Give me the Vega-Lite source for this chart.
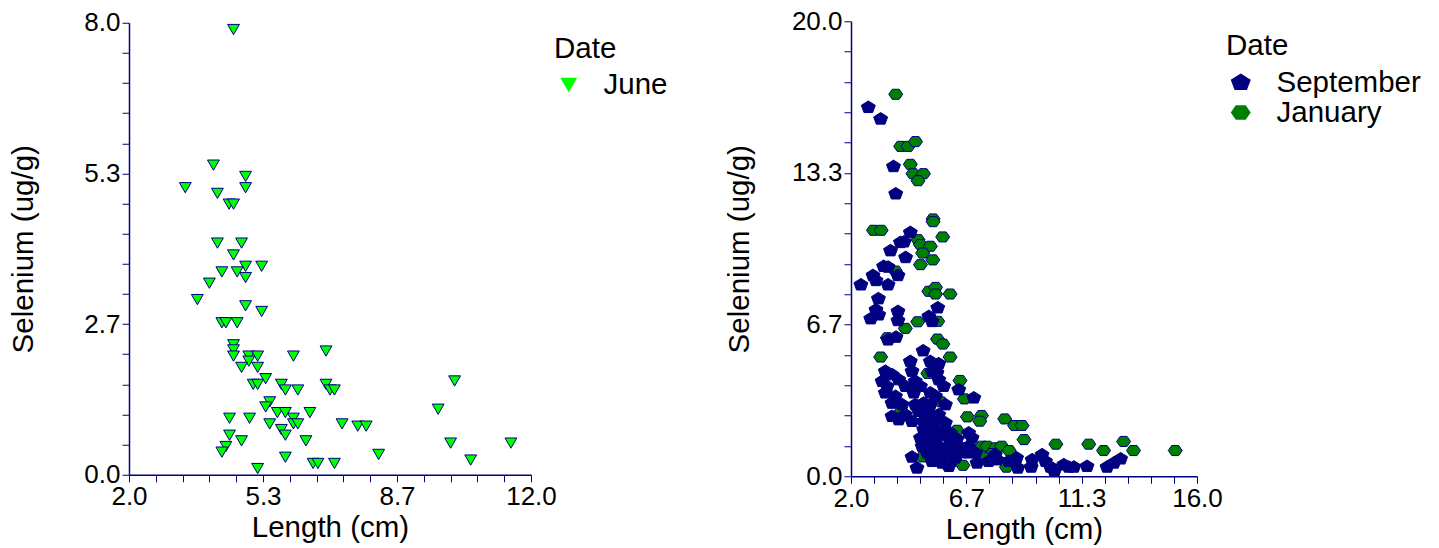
{
  "$schema": "https://vega.github.io/schema/vega-lite/v6.json",
  "background": "white",
  "padding": {"left": 8, "top": 8, "right": 5, "bottom": 5},
  "config": {
    "view": {"stroke": null},
    "font": "Liberation Sans",
    "axis": {
      "domainColor": "#000080", "domainWidth": 1.5,
      "tickColor": "#000080", "tickWidth": 1, "tickSize": 7,
      "labelFontSize": 26, "labelColor": "#000000", "labelPadding": 2,
      "labelFlush": false, "labelOverlap": false,
      "titleFontSize": 29.5, "titleColor": "#000000", "titleFontWeight": "normal",
      "grid": false
    },
    "legend": {
      "titleFontSize": 29.5, "titleFontWeight": "normal", "titleColor": "#000000",
      "labelFontSize": 29.5, "labelColor": "#000000",
      "rowPadding": -4, "titlePadding": 6,
      "symbolStrokeColor": "#000080", "symbolStrokeWidth": 1, "symbolOpacity": 1
    }
  },
  "datasets": {
    "june": [
      {"length": 4.60, "selenium": 7.88}, {"length": 4.10, "selenium": 5.48}, {"length": 4.90, "selenium": 5.28},
      {"length": 3.40, "selenium": 5.08}, {"length": 4.90, "selenium": 5.08}, {"length": 4.20, "selenium": 4.98},
      {"length": 4.49, "selenium": 4.79}, {"length": 4.60, "selenium": 4.79}, {"length": 4.20, "selenium": 4.10},
      {"length": 4.80, "selenium": 4.10}, {"length": 4.60, "selenium": 3.89}, {"length": 4.90, "selenium": 3.69},
      {"length": 5.30, "selenium": 3.69}, {"length": 4.31, "selenium": 3.59}, {"length": 4.69, "selenium": 3.59},
      {"length": 4.90, "selenium": 3.49}, {"length": 4.00, "selenium": 3.39}, {"length": 3.70, "selenium": 3.10},
      {"length": 4.90, "selenium": 2.99}, {"length": 5.30, "selenium": 2.89}, {"length": 4.31, "selenium": 2.69},
      {"length": 4.41, "selenium": 2.69}, {"length": 4.69, "selenium": 2.69}, {"length": 4.60, "selenium": 2.30},
      {"length": 4.60, "selenium": 2.21}, {"length": 4.60, "selenium": 2.10}, {"length": 4.98, "selenium": 2.10},
      {"length": 5.20, "selenium": 2.10}, {"length": 4.98, "selenium": 2.01}, {"length": 6.09, "selenium": 2.10},
      {"length": 6.90, "selenium": 2.19}, {"length": 4.80, "selenium": 1.90}, {"length": 5.20, "selenium": 1.90},
      {"length": 5.40, "selenium": 1.70}, {"length": 5.09, "selenium": 1.60}, {"length": 5.20, "selenium": 1.60},
      {"length": 5.79, "selenium": 1.60}, {"length": 5.89, "selenium": 1.50}, {"length": 6.20, "selenium": 1.50},
      {"length": 6.90, "selenium": 1.60}, {"length": 7.00, "selenium": 1.50}, {"length": 7.11, "selenium": 1.50},
      {"length": 5.50, "selenium": 1.29}, {"length": 5.40, "selenium": 1.20}, {"length": 5.69, "selenium": 1.10},
      {"length": 5.89, "selenium": 1.10}, {"length": 6.50, "selenium": 1.10}, {"length": 4.50, "selenium": 1.00},
      {"length": 5.00, "selenium": 1.00}, {"length": 6.09, "selenium": 1.00}, {"length": 5.50, "selenium": 0.90},
      {"length": 6.09, "selenium": 0.90}, {"length": 6.20, "selenium": 0.90}, {"length": 7.30, "selenium": 0.90},
      {"length": 5.79, "selenium": 0.80}, {"length": 5.89, "selenium": 0.70}, {"length": 4.50, "selenium": 0.70},
      {"length": 4.80, "selenium": 0.60}, {"length": 6.40, "selenium": 0.60}, {"length": 4.41, "selenium": 0.50},
      {"length": 4.31, "selenium": 0.40}, {"length": 5.89, "selenium": 0.31}, {"length": 5.20, "selenium": 0.11},
      {"length": 6.58, "selenium": 0.20}, {"length": 6.70, "selenium": 0.20}, {"length": 7.11, "selenium": 0.20},
      {"length": 7.69, "selenium": 0.86}, {"length": 7.90, "selenium": 0.86}, {"length": 8.21, "selenium": 0.36},
      {"length": 9.69, "selenium": 1.16}, {"length": 10.10, "selenium": 1.66}, {"length": 10.00, "selenium": 0.56},
      {"length": 10.50, "selenium": 0.26}, {"length": 11.50, "selenium": 0.56}
    ],
    "sepjan": [
      {"date": "January", "length": 3.81, "selenium": 16.79}, {"date": "January", "length": 4.01, "selenium": 14.50},
      {"date": "January", "length": 4.31, "selenium": 14.50}, {"date": "January", "length": 4.61, "selenium": 14.71},
      {"date": "January", "length": 4.40, "selenium": 13.71}, {"date": "January", "length": 4.51, "selenium": 13.30},
      {"date": "January", "length": 4.93, "selenium": 13.30}, {"date": "January", "length": 4.71, "selenium": 12.99},
      {"date": "January", "length": 5.32, "selenium": 11.31}, {"date": "January", "length": 5.32, "selenium": 11.19},
      {"date": "January", "length": 2.91, "selenium": 10.81}, {"date": "January", "length": 3.22, "selenium": 10.81},
      {"date": "January", "length": 5.71, "selenium": 10.52}, {"date": "January", "length": 4.71, "selenium": 10.40},
      {"date": "January", "length": 4.81, "selenium": 10.18}, {"date": "January", "length": 5.21, "selenium": 10.11},
      {"date": "January", "length": 4.90, "selenium": 9.81}, {"date": "January", "length": 5.31, "selenium": 9.51},
      {"date": "January", "length": 4.81, "selenium": 9.30}, {"date": "January", "length": 3.80, "selenium": 9.02},
      {"date": "January", "length": 5.15, "selenium": 8.13}, {"date": "January", "length": 5.42, "selenium": 8.30},
      {"date": "January", "length": 5.42, "selenium": 8.01}, {"date": "January", "length": 6.01, "selenium": 8.01},
      {"date": "January", "length": 4.70, "selenium": 6.79}, {"date": "January", "length": 5.51, "selenium": 6.81},
      {"date": "January", "length": 4.20, "selenium": 6.50}, {"date": "January", "length": 3.47, "selenium": 6.09},
      {"date": "January", "length": 5.50, "selenium": 6.03}, {"date": "January", "length": 5.72, "selenium": 5.81},
      {"date": "January", "length": 3.20, "selenium": 5.24}, {"date": "January", "length": 6.01, "selenium": 5.24},
      {"date": "January", "length": 5.11, "selenium": 4.52}, {"date": "January", "length": 6.41, "selenium": 4.21},
      {"date": "January", "length": 6.59, "selenium": 3.40}, {"date": "January", "length": 5.64, "selenium": 3.27},
      {"date": "January", "length": 4.00, "selenium": 2.81}, {"date": "January", "length": 6.71, "selenium": 2.61},
      {"date": "January", "length": 7.28, "selenium": 2.67}, {"date": "January", "length": 7.21, "selenium": 2.42},
      {"date": "January", "length": 6.29, "selenium": 2.02}, {"date": "January", "length": 6.56, "selenium": 1.25},
      {"date": "January", "length": 7.30, "selenium": 1.32}, {"date": "January", "length": 7.51, "selenium": 1.32},
      {"date": "January", "length": 7.85, "selenium": 1.25}, {"date": "January", "length": 7.71, "selenium": 1.00},
      {"date": "January", "length": 7.37, "selenium": 0.81}, {"date": "January", "length": 4.90, "selenium": 0.85},
      {"date": "January", "length": 5.59, "selenium": 0.76}, {"date": "January", "length": 5.91, "selenium": 0.48},
      {"date": "January", "length": 6.25, "selenium": 0.66}, {"date": "January", "length": 6.53, "selenium": 0.48},
      {"date": "January", "length": 8.22, "selenium": 2.52}, {"date": "January", "length": 8.62, "selenium": 2.23},
      {"date": "January", "length": 8.92, "selenium": 2.23}, {"date": "January", "length": 9.00, "selenium": 1.61},
      {"date": "January", "length": 10.29, "selenium": 1.41}, {"date": "January", "length": 11.62, "selenium": 1.41},
      {"date": "January", "length": 12.22, "selenium": 1.13}, {"date": "January", "length": 13.03, "selenium": 1.53},
      {"date": "January", "length": 13.43, "selenium": 1.13}, {"date": "January", "length": 15.12, "selenium": 1.13},
      {"date": "January", "length": 8.10, "selenium": 1.32}, {"date": "January", "length": 8.40, "selenium": 1.13},
      {"date": "January", "length": 8.29, "selenium": 0.40},
      {"date": "September", "length": 2.70, "selenium": 16.22}, {"date": "September", "length": 3.20, "selenium": 15.71},
      {"date": "September", "length": 3.72, "selenium": 13.62}, {"date": "September", "length": 3.81, "selenium": 12.42},
      {"date": "September", "length": 4.40, "selenium": 10.72}, {"date": "September", "length": 4.00, "selenium": 10.28},
      {"date": "September", "length": 4.15, "selenium": 10.31}, {"date": "September", "length": 3.60, "selenium": 9.92},
      {"date": "September", "length": 4.21, "selenium": 9.62}, {"date": "September", "length": 3.32, "selenium": 9.23},
      {"date": "September", "length": 3.50, "selenium": 9.20}, {"date": "September", "length": 3.90, "selenium": 8.83},
      {"date": "September", "length": 2.89, "selenium": 8.83}, {"date": "September", "length": 3.01, "selenium": 8.61},
      {"date": "September", "length": 2.40, "selenium": 8.42}, {"date": "September", "length": 3.50, "selenium": 8.42},
      {"date": "September", "length": 3.11, "selenium": 7.81}, {"date": "September", "length": 5.51, "selenium": 7.41},
      {"date": "September", "length": 3.01, "selenium": 7.32}, {"date": "September", "length": 3.12, "selenium": 7.10},
      {"date": "September", "length": 2.80, "selenium": 6.93}, {"date": "September", "length": 3.90, "selenium": 7.25},
      {"date": "September", "length": 3.90, "selenium": 6.85}, {"date": "September", "length": 5.15, "selenium": 7.03},
      {"date": "September", "length": 5.28, "selenium": 6.81}, {"date": "September", "length": 3.82, "selenium": 6.12},
      {"date": "September", "length": 3.50, "selenium": 6.00}, {"date": "September", "length": 4.92, "selenium": 5.52},
      {"date": "September", "length": 4.40, "selenium": 5.05}, {"date": "September", "length": 5.21, "selenium": 5.05},
      {"date": "September", "length": 5.55, "selenium": 4.95}, {"date": "September", "length": 3.39, "selenium": 4.62},
      {"date": "September", "length": 3.66, "selenium": 4.47}, {"date": "September", "length": 4.47, "selenium": 4.62},
      {"date": "September", "length": 5.28, "selenium": 4.62}, {"date": "September", "length": 5.48, "selenium": 4.55},
      {"date": "September", "length": 3.26, "selenium": 4.18}, {"date": "September", "length": 3.93, "selenium": 4.25},
      {"date": "September", "length": 4.60, "selenium": 4.18}, {"date": "September", "length": 5.55, "selenium": 4.25},
      {"date": "September", "length": 3.46, "selenium": 3.96}, {"date": "September", "length": 4.20, "selenium": 3.96},
      {"date": "September", "length": 4.81, "selenium": 3.96}, {"date": "September", "length": 5.75, "selenium": 3.96},
      {"date": "September", "length": 6.36, "selenium": 3.81}, {"date": "September", "length": 3.39, "selenium": 3.67},
      {"date": "September", "length": 3.80, "selenium": 3.52}, {"date": "September", "length": 4.54, "selenium": 3.67},
      {"date": "September", "length": 5.21, "selenium": 3.67}, {"date": "September", "length": 5.42, "selenium": 3.52},
      {"date": "September", "length": 6.97, "selenium": 3.45}, {"date": "September", "length": 3.66, "selenium": 3.22},
      {"date": "September", "length": 4.07, "selenium": 3.15}, {"date": "September", "length": 4.60, "selenium": 3.15},
      {"date": "September", "length": 4.94, "selenium": 3.22}, {"date": "September", "length": 5.21, "selenium": 3.15},
      {"date": "September", "length": 5.82, "selenium": 3.15}, {"date": "September", "length": 3.66, "selenium": 2.64},
      {"date": "September", "length": 4.20, "selenium": 2.71}, {"date": "September", "length": 4.74, "selenium": 2.86},
      {"date": "September", "length": 5.15, "selenium": 2.78}, {"date": "September", "length": 5.55, "selenium": 2.71},
      {"date": "September", "length": 3.93, "selenium": 2.49}, {"date": "September", "length": 4.47, "selenium": 2.42},
      {"date": "September", "length": 4.94, "selenium": 2.42}, {"date": "September", "length": 5.35, "selenium": 2.35},
      {"date": "September", "length": 5.82, "selenium": 2.35}, {"date": "September", "length": 4.94, "selenium": 2.06},
      {"date": "September", "length": 5.35, "selenium": 2.06}, {"date": "September", "length": 5.68, "selenium": 1.98},
      {"date": "September", "length": 6.02, "selenium": 1.91}, {"date": "September", "length": 6.76, "selenium": 1.91},
      {"date": "September", "length": 4.81, "selenium": 1.69}, {"date": "September", "length": 5.15, "selenium": 1.69},
      {"date": "September", "length": 5.48, "selenium": 1.69}, {"date": "September", "length": 5.96, "selenium": 1.69},
      {"date": "September", "length": 6.29, "selenium": 1.64}, {"date": "September", "length": 6.90, "selenium": 1.69},
      {"date": "September", "length": 4.88, "selenium": 1.32}, {"date": "September", "length": 5.21, "selenium": 1.32},
      {"date": "September", "length": 5.55, "selenium": 1.32}, {"date": "September", "length": 5.96, "selenium": 1.32},
      {"date": "September", "length": 6.36, "selenium": 1.25}, {"date": "September", "length": 6.76, "selenium": 1.32},
      {"date": "September", "length": 4.47, "selenium": 0.85}, {"date": "September", "length": 5.08, "selenium": 1.03},
      {"date": "September", "length": 5.42, "selenium": 1.03}, {"date": "September", "length": 5.75, "selenium": 0.95},
      {"date": "September", "length": 6.16, "selenium": 0.95}, {"date": "September", "length": 6.70, "selenium": 1.03},
      {"date": "September", "length": 7.04, "selenium": 1.03}, {"date": "September", "length": 5.28, "selenium": 0.66},
      {"date": "September", "length": 5.68, "selenium": 0.59}, {"date": "September", "length": 6.22, "selenium": 0.81},
      {"date": "September", "length": 7.10, "selenium": 0.59}, {"date": "September", "length": 7.57, "selenium": 0.66},
      {"date": "September", "length": 7.84, "selenium": 0.95}, {"date": "September", "length": 4.67, "selenium": 0.37},
      {"date": "September", "length": 5.96, "selenium": 0.44}, {"date": "September", "length": 8.70, "selenium": 0.81},
      {"date": "September", "length": 8.75, "selenium": 0.37}, {"date": "September", "length": 9.33, "selenium": 0.73},
      {"date": "September", "length": 9.29, "selenium": 0.41}, {"date": "September", "length": 9.73, "selenium": 0.95},
      {"date": "September", "length": 9.87, "selenium": 0.66}, {"date": "September", "length": 10.07, "selenium": 0.41},
      {"date": "September", "length": 10.23, "selenium": 0.22}, {"date": "September", "length": 10.61, "selenium": 0.51},
      {"date": "September", "length": 10.81, "selenium": 0.41}, {"date": "September", "length": 11.02, "selenium": 0.41},
      {"date": "September", "length": 11.55, "selenium": 0.44}, {"date": "September", "length": 12.36, "selenium": 0.41},
      {"date": "September", "length": 12.64, "selenium": 0.59}, {"date": "September", "length": 12.91, "selenium": 0.77},
      {"date": "September", "length": 7.91, "selenium": 0.73}, {"date": "September", "length": 8.38, "selenium": 0.66}
    ]
  },
  "spacing": 44,
  "center": true,
  "hconcat": [
    {
      "width": 402,
      "height": 452,
      "data": {"name": "june"},
      "transform": [{"calculate": "'June'", "as": "date"}],
      "mark": {"type": "point", "filled": true, "opacity": 1, "stroke": "#000080", "strokeWidth": 1, "size": 140},
      "encoding": {
        "x": {
          "field": "length", "type": "quantitative",
          "scale": {"domain": [2, 12], "nice": false, "zero": false},
          "axis": {
            "title": "Length (cm)", "titlePadding": 4,
            "values": [2, 2.6667, 3.3333, 4, 4.6667, 5.3333, 6, 6.6667, 7.3333, 8, 8.6667, 9.3333, 10, 10.6667, 11.3333, 12],
            "labelExpr": "(round((datum.value - 2) * 1.5) % 5 == 0) ? format(datum.value, '.1f') : ''"
          }
        },
        "y": {
          "field": "selenium", "type": "quantitative",
          "scale": {"domain": [0, 8], "nice": false},
          "axis": {
            "title": "Selenium (ug/g)", "titlePadding": 45,
            "values": [0, 0.5333, 1.0667, 1.6, 2.1333, 2.6667, 3.2, 3.7333, 4.2667, 4.8, 5.3333, 5.8667, 6.4, 6.9333, 7.4667, 8],
            "labelExpr": "(round(datum.value * 15 / 8) % 5 == 0) ? format(datum.value, '.1f') : ''"
          }
        },
        "color": {
          "field": "date", "type": "nominal",
          "scale": {"domain": ["June"], "range": ["#00ff00"]},
          "legend": {"title": "Date", "symbolSize": 289, "padding": 12, "offset": 11, "labelOffset": 20}
        },
        "shape": {
          "field": "date", "type": "nominal",
          "scale": {"domain": ["June"], "range": ["triangle-down"]}
        }
      }
    },
    {
      "width": 346,
      "height": 455,
      "data": {"name": "sepjan"},
      "mark": {"type": "point", "filled": true, "opacity": 1, "stroke": "#000080", "strokeWidth": 1, "size": 195},
      "encoding": {
        "x": {
          "field": "length", "type": "quantitative",
          "scale": {"domain": [2, 16], "nice": false, "zero": false},
          "axis": {
            "title": "Length (cm)", "titlePadding": 4,
            "values": [2, 2.9333, 3.8667, 4.8, 5.7333, 6.6667, 7.6, 8.5333, 9.4667, 10.4, 11.3333, 12.2667, 13.2, 14.1333, 15.0667, 16],
            "labelExpr": "(round((datum.value - 2) * 15 / 14) % 5 == 0) ? format(datum.value, '.1f') : ''"
          }
        },
        "y": {
          "field": "selenium", "type": "quantitative",
          "scale": {"domain": [0, 20], "nice": false},
          "axis": {
            "title": "Selenium (ug/g)", "titlePadding": 37,
            "values": [0, 1.3333, 2.6667, 4, 5.3333, 6.6667, 8, 9.3333, 10.6667, 12, 13.3333, 14.6667, 16, 17.3333, 18.6667, 20],
            "labelExpr": "(round(datum.value * 0.75) % 5 == 0) ? format(datum.value, '.1f') : ''"
          }
        },
        "color": {
          "field": "date", "type": "nominal",
          "scale": {"domain": ["September", "January"], "range": ["#000080", "#008000"]},
          "legend": {"title": "Date", "symbolSize": 400, "padding": 11, "offset": 18, "labelOffset": 21}
        },
        "shape": {
          "field": "date", "type": "nominal",
          "scale": {
            "domain": ["September", "January"],
            "range": ["M0,-0.9L1,-0.27L0.62,0.76L-0.62,0.76L-1,-0.27Z", "M-1,0L-0.5,-0.72L0.5,-0.72L1,0L0.5,0.72L-0.5,0.72Z"]
          }
        }
      }
    }
  ],
  "resolve": {"scale": {"color": "independent", "shape": "independent"}}
}
